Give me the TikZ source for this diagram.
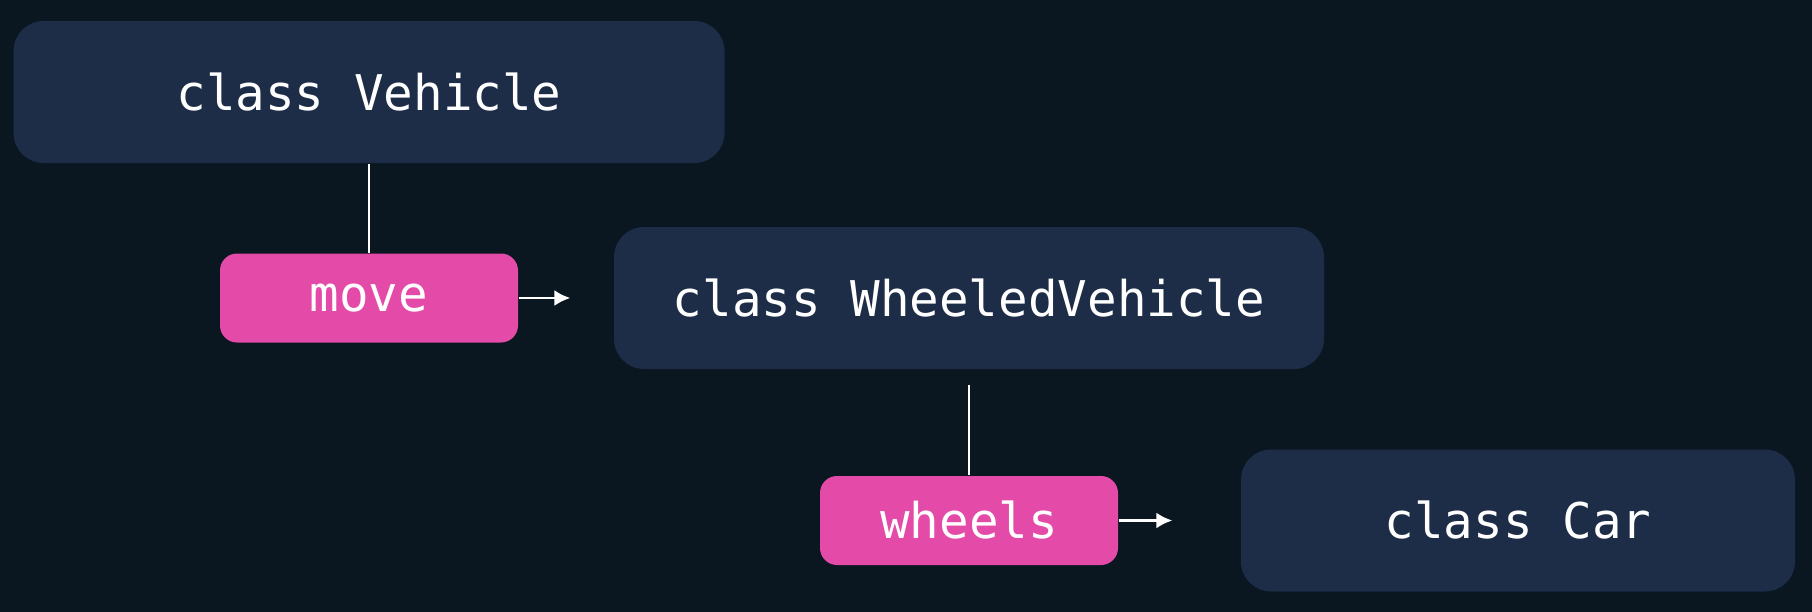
\documentclass[tikz,border=0pt]{standalone}
\usepackage{fontspec}
\setmonofont{DejaVu Sans Mono}
\usetikzlibrary{arrows.meta}

\definecolor{bgdark}{RGB}{10,22,32}
\definecolor{classblue}{RGB}{29,45,72}
\definecolor{methodpink}{RGB}{228,74,168}

\tikzset{
	classbox/.style={fill=classblue, rounded corners=0.3cm, minimum height=1.42cm, inner sep=0pt, text=white, font=\ttfamily\fontsize{14}{16}\selectfont},
	methodbox/.style={fill=methodpink, rounded corners=0.17cm, minimum width=2.98cm, minimum height=0.89cm, inner sep=0pt, text=white, font=\ttfamily\fontsize{14}{16}\selectfont},
	link/.style={draw=white, line width=0.7pt}
}

\begin{document}
\begin{tikzpicture}
		% Background
		\fill[bgdark] (0,0) rectangle (18.12,-6.12);
		
		% Vehicle
		\node[classbox, minimum width=7.11cm] (vehicle) at (3.69,-0.92) {class Vehicle};
		
		% move
		\node[methodbox] (move) at (3.69,-2.98) {move};
		
		% WheeledVehicle
		\node[classbox, minimum width=7.10cm] (wheeled) at (9.69,-2.98) {class WheeledVehicle};
		
		% wheels
		\node[methodbox] (wheels) at (9.69,-5.205) {wheels};
		
		% Car
		\node[classbox, minimum width=5.54cm] (car) at (15.18,-5.205) {class Car};
		
		% Lines down
		\draw[link] (vehicle.south) -- (move.north);
		\draw[link, shorten <=0.15cm] (wheeled.south) -- (wheels.north);
		
		% Arrows right
		\draw[link, -{Latex[length=4.5pt,width=4.5pt]}, shorten >=0.43cm] (move.east) -- (wheeled.west);
		\draw[link, -{Latex[length=4.5pt,width=4.5pt]}, shorten >=0.68cm] (wheels.east) -- (car.west);
	\end{tikzpicture}
\end{document}
